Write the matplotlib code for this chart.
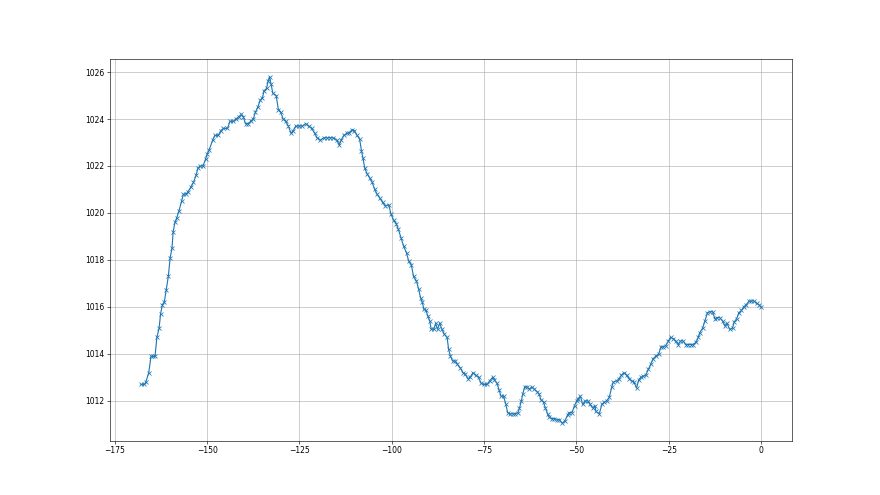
import matplotlib
matplotlib.use("Agg")
import matplotlib.pyplot as plt

hours = [
    -167.9, -167.0, -166.6, -165.8, -165.2, -164.6, -164.1, -163.6, -163.0, -162.6,
    -162.1, -161.6, -161.1, -160.5, -160.0, -159.5, -159.2, -158.7, -158.2, -157.6,
    -156.9, -156.4, -155.7, -155.2, -154.4, -153.7, -153.0, -152.5, -151.8, -151.1,
    -150.4, -150.0, -149.4, -148.5, -147.9, -147.0, -146.3, -145.6, -144.5, -143.8,
    -142.9, -142.2, -141.4, -140.7, -140.2, -139.6, -138.9, -138.2, -137.5, -136.9,
    -136.3, -135.6, -135.0, -134.6, -133.9, -133.5, -133.1, -132.7, -132.2, -131.3,
    -130.7, -130.1, -129.4, -128.7, -128.0, -127.3, -126.7, -126.0, -125.1, -124.2,
    -123.3, -122.5, -121.7, -120.9, -120.2, -119.3, -118.4, -117.5, -116.6, -115.8,
    -114.9, -114.2, -113.7, -113.0, -112.1, -111.6, -110.7, -110.1, -109.4, -108.7,
    -108.2, -107.8, -107.3, -106.6, -106.0, -105.3, -104.6, -104.0, -103.3, -102.5,
    -101.7, -100.8, -100.2, -99.5, -98.8, -98.2, -97.5, -96.8, -96.0, -95.4,
    -94.7, -94.1, -93.3, -92.7, -92.2, -91.7, -91.3, -90.7, -90.2, -89.7,
    -89.3, -88.6, -88.1, -87.6, -87.0, -86.4, -85.8, -85.0, -84.6, -84.1,
    -83.5, -82.8, -82.2, -81.4, -80.7, -80.1, -79.4, -78.8, -78.0, -77.3,
    -76.5, -75.8, -75.1, -74.2, -73.5, -72.7, -72.2, -71.5, -70.9, -70.4,
    -69.7, -69.1, -68.6, -67.9, -67.2, -66.6, -65.8, -65.4, -64.9, -64.5,
    -64.0, -63.4, -62.7, -62.1, -61.4, -60.7, -60.1, -59.6, -58.9, -58.4,
    -57.8, -57.3, -56.6, -56.0, -55.3, -54.6, -53.8, -53.1, -52.4, -51.9,
    -51.2, -50.5, -49.9, -49.5, -48.9, -48.3, -47.6, -46.9, -46.3, -45.6,
    -45.0, -44.7, -43.8, -43.1, -42.4, -41.8, -41.1, -40.4, -40.0, -39.1,
    -38.4, -37.8, -37.1, -36.4, -35.7, -35.0, -34.4, -33.7, -33.1, -32.6,
    -31.9, -31.2, -30.5, -29.9, -29.2, -28.5, -27.7, -27.1, -26.5, -25.8,
    -25.1, -24.5, -23.8, -23.1, -22.4, -21.8, -21.1, -20.4, -19.7, -19.0,
    -18.4, -17.6, -17.0, -16.6, -15.8, -15.2, -14.5, -13.9, -13.1, -12.5,
    -11.9, -11.2, -10.4, -9.8, -9.2, -8.5, -7.7, -7.3, -6.6, -6.0,
    -5.3, -4.7, -4.0, -3.2, -2.6, -1.9, -1.2, -0.6, 0.0,
]

pressure = [
    1012.7, 1012.7, 1012.8, 1013.2, 1013.9, 1013.9, 1013.9, 1014.7, 1015.1, 1015.7,
    1016.1, 1016.2, 1016.7, 1017.3, 1018.1, 1018.5, 1019.2, 1019.6, 1019.8, 1020.1,
    1020.5, 1020.8, 1020.8, 1020.9, 1021.1, 1021.3, 1021.6, 1021.9, 1022.0, 1022.0,
    1022.3, 1022.5, 1022.7, 1023.1, 1023.3, 1023.3, 1023.5, 1023.6, 1023.6, 1023.9,
    1023.9, 1024.0, 1024.1, 1024.2, 1024.1, 1023.8, 1023.8, 1023.9, 1024.0, 1024.3,
    1024.5, 1024.8, 1024.9, 1025.2, 1025.3, 1025.6, 1025.8, 1025.5, 1025.1, 1025.0,
    1024.4, 1024.3, 1024.0, 1023.9, 1023.7, 1023.4, 1023.5, 1023.7, 1023.7, 1023.7,
    1023.8, 1023.7, 1023.6, 1023.4, 1023.2, 1023.1, 1023.2, 1023.2, 1023.2, 1023.2,
    1023.1, 1022.9, 1023.1, 1023.3, 1023.4, 1023.4, 1023.55, 1023.5, 1023.3, 1023.15,
    1022.65, 1022.35, 1021.9, 1021.65, 1021.5, 1021.3, 1021.0, 1020.8, 1020.65, 1020.45,
    1020.3, 1020.35, 1019.95, 1019.7, 1019.55, 1019.3, 1018.95, 1018.6, 1018.3, 1017.95,
    1017.8, 1017.3, 1017.1, 1016.75, 1016.4, 1016.2, 1015.9, 1015.85, 1015.6, 1015.4,
    1015.05, 1015.05, 1015.3, 1015.05, 1015.3, 1015.05, 1014.85, 1014.7, 1014.2, 1013.9,
    1013.7, 1013.7, 1013.55, 1013.4, 1013.2, 1013.15, 1012.95, 1013.0, 1013.2, 1013.1,
    1013.0, 1012.75, 1012.7, 1012.7, 1012.85, 1013.0, 1012.9, 1012.75, 1012.45, 1012.2,
    1012.2, 1011.85, 1011.5, 1011.45, 1011.45, 1011.45, 1011.5, 1011.7, 1012.0, 1012.3,
    1012.6, 1012.6, 1012.5, 1012.6, 1012.5, 1012.4, 1012.3, 1012.05, 1011.95, 1011.7,
    1011.45, 1011.3, 1011.25, 1011.25, 1011.2, 1011.2, 1011.05, 1011.15, 1011.4, 1011.5,
    1011.5, 1011.8, 1012.0, 1012.1, 1012.2, 1011.85, 1012.0, 1012.0, 1011.85, 1011.7,
    1011.8, 1011.55, 1011.45, 1011.85, 1011.95, 1012.0, 1012.15, 1012.6, 1012.8, 1012.85,
    1012.95, 1013.1, 1013.2, 1013.1, 1012.95, 1012.85, 1012.8, 1012.55, 1012.9, 1013.0,
    1013.05, 1013.1, 1013.35, 1013.55, 1013.8, 1013.9, 1014.0, 1014.3, 1014.3, 1014.35,
    1014.55, 1014.7, 1014.65, 1014.55, 1014.4, 1014.55, 1014.55, 1014.4, 1014.4, 1014.4,
    1014.4, 1014.5, 1014.7, 1014.9, 1015.1, 1015.4, 1015.75, 1015.8, 1015.8, 1015.5,
    1015.55, 1015.55, 1015.4, 1015.2, 1015.3, 1015.05, 1015.1, 1015.35, 1015.5, 1015.75,
    1015.85, 1016.0, 1016.1, 1016.25, 1016.25, 1016.25, 1016.15, 1016.1, 1016.0,
]

x_ticks = [-175, -150, -125, -100, -75, -50, -25, 0]

fig, ax = plt.subplots(figsize=(16, 9), dpi=55)
ax.plot(hours, pressure, marker="x", color="#1f77b4", linewidth=1.5, markersize=6)
ax.set_xticks(x_ticks)
ax.grid(True, color="#b0b0b0", linewidth=0.8)
fig.savefig("out.png", dpi=55)
